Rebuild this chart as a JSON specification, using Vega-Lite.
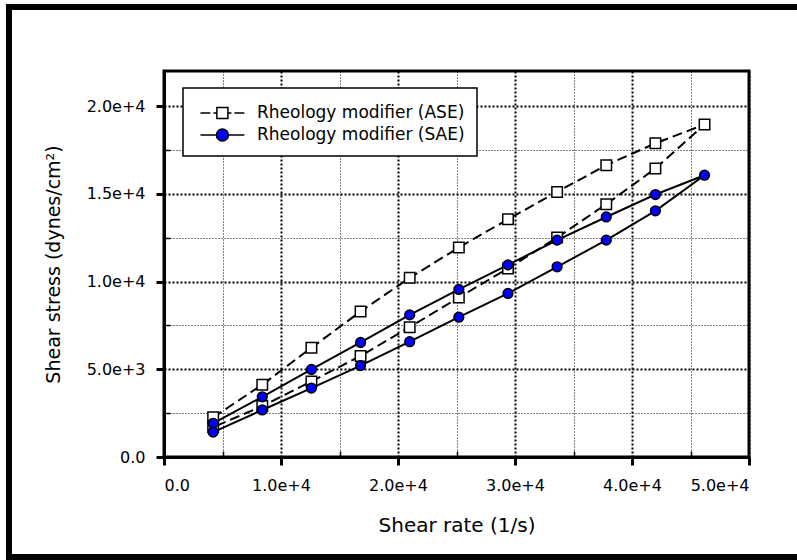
{
  "$schema": "https://vega.github.io/schema/vega-lite/v6.json",
  "width": 585,
  "height": 386,
  "autosize": {"type": "none"},
  "padding": {"left": 164, "top": 71, "right": 48, "bottom": 103},
  "background": "white",
  "config": {
    "view": {"stroke": "black", "strokeWidth": 3},
    "font": "DejaVu Sans",
    "axis": {
      "labelFont": "DejaVu Sans",
      "titleFont": "DejaVu Sans",
      "labelColor": "black",
      "titleColor": "black",
      "titleFontWeight": "normal",
      "tickColor": "black",
      "domainColor": "black",
      "gridColor": "black",
      "gridOpacity": 1
    }
  },
  "data": {
    "values": [
      {"series": "Rheology modifier (ASE)", "ord": 1, "rate": 4200, "stress": 2260},
      {"series": "Rheology modifier (ASE)", "ord": 2, "rate": 8400, "stress": 4120},
      {"series": "Rheology modifier (ASE)", "ord": 3, "rate": 12600, "stress": 6230},
      {"series": "Rheology modifier (ASE)", "ord": 4, "rate": 16800, "stress": 8290},
      {"series": "Rheology modifier (ASE)", "ord": 5, "rate": 21000, "stress": 10210},
      {"series": "Rheology modifier (ASE)", "ord": 6, "rate": 25200, "stress": 11940},
      {"series": "Rheology modifier (ASE)", "ord": 7, "rate": 29400, "stress": 13550},
      {"series": "Rheology modifier (ASE)", "ord": 8, "rate": 33600, "stress": 15110},
      {"series": "Rheology modifier (ASE)", "ord": 9, "rate": 37800, "stress": 16630},
      {"series": "Rheology modifier (ASE)", "ord": 10, "rate": 42000, "stress": 17880},
      {"series": "Rheology modifier (ASE)", "ord": 11, "rate": 46200, "stress": 18950},
      {"series": "Rheology modifier (ASE)", "ord": 12, "rate": 42000, "stress": 16440},
      {"series": "Rheology modifier (ASE)", "ord": 13, "rate": 37800, "stress": 14410},
      {"series": "Rheology modifier (ASE)", "ord": 14, "rate": 33600, "stress": 12510},
      {"series": "Rheology modifier (ASE)", "ord": 15, "rate": 29400, "stress": 10750},
      {"series": "Rheology modifier (ASE)", "ord": 16, "rate": 25200, "stress": 9090},
      {"series": "Rheology modifier (ASE)", "ord": 17, "rate": 21000, "stress": 7400},
      {"series": "Rheology modifier (ASE)", "ord": 18, "rate": 16800, "stress": 5760},
      {"series": "Rheology modifier (ASE)", "ord": 19, "rate": 12600, "stress": 4310},
      {"series": "Rheology modifier (ASE)", "ord": 20, "rate": 8400, "stress": 2900},
      {"series": "Rheology modifier (ASE)", "ord": 21, "rate": 4200, "stress": 1700},
      {"series": "Rheology modifier (SAE)", "ord": 1, "rate": 4200, "stress": 1920},
      {"series": "Rheology modifier (SAE)", "ord": 2, "rate": 8400, "stress": 3430},
      {"series": "Rheology modifier (SAE)", "ord": 3, "rate": 12600, "stress": 4990},
      {"series": "Rheology modifier (SAE)", "ord": 4, "rate": 16800, "stress": 6530},
      {"series": "Rheology modifier (SAE)", "ord": 5, "rate": 21000, "stress": 8100},
      {"series": "Rheology modifier (SAE)", "ord": 6, "rate": 25200, "stress": 9550},
      {"series": "Rheology modifier (SAE)", "ord": 7, "rate": 29400, "stress": 10950},
      {"series": "Rheology modifier (SAE)", "ord": 8, "rate": 33600, "stress": 12360},
      {"series": "Rheology modifier (SAE)", "ord": 9, "rate": 37800, "stress": 13680},
      {"series": "Rheology modifier (SAE)", "ord": 10, "rate": 42000, "stress": 14960},
      {"series": "Rheology modifier (SAE)", "ord": 11, "rate": 46200, "stress": 16060},
      {"series": "Rheology modifier (SAE)", "ord": 12, "rate": 42000, "stress": 14030},
      {"series": "Rheology modifier (SAE)", "ord": 13, "rate": 37800, "stress": 12360},
      {"series": "Rheology modifier (SAE)", "ord": 14, "rate": 33600, "stress": 10840},
      {"series": "Rheology modifier (SAE)", "ord": 15, "rate": 29400, "stress": 9320},
      {"series": "Rheology modifier (SAE)", "ord": 16, "rate": 25200, "stress": 7970},
      {"series": "Rheology modifier (SAE)", "ord": 17, "rate": 21000, "stress": 6570},
      {"series": "Rheology modifier (SAE)", "ord": 18, "rate": 16800, "stress": 5210},
      {"series": "Rheology modifier (SAE)", "ord": 19, "rate": 12600, "stress": 3930},
      {"series": "Rheology modifier (SAE)", "ord": 20, "rate": 8400, "stress": 2680},
      {"series": "Rheology modifier (SAE)", "ord": 21, "rate": 4200, "stress": 1420}
    ]
  },
  "layer": [
    {
      "transform": [{"filter": "datum.ord == 1 && datum.series == 'Rheology modifier (ASE)'"}],
      "mark": {"type": "rule", "color": "black", "strokeWidth": 6, "strokeCap": "square"},
      "encoding": {
        "x": {"datum": -13250, "type": "quantitative", "scale": {"domain": [0, 50000], "nice": false, "zero": false}, "axis": null},
        "y": {"datum": 25650, "type": "quantitative", "scale": {"domain": [0, 22000], "nice": false, "zero": false}, "axis": null},
        "y2": {"datum": -5700}
      }
    },
    {
      "transform": [{"filter": "datum.ord == 1 && datum.series == 'Rheology modifier (ASE)'"}],
      "mark": {"type": "rule", "color": "black", "strokeWidth": 6, "strokeCap": "butt"},
      "encoding": {
        "x": {"datum": -13250, "type": "quantitative", "scale": {"domain": [0, 50000], "nice": false, "zero": false}, "axis": null},
        "x2": {"datum": 54100},
        "y": {"datum": 25650, "type": "quantitative", "scale": {"domain": [0, 22000], "nice": false, "zero": false}, "axis": null}
      }
    },
    {
      "transform": [{"filter": "datum.ord == 1 && datum.series == 'Rheology modifier (ASE)'"}],
      "mark": {"type": "rule", "color": "black", "strokeWidth": 6, "strokeCap": "butt"},
      "encoding": {
        "x": {"datum": -13250, "type": "quantitative", "scale": {"domain": [0, 50000], "nice": false, "zero": false}, "axis": null},
        "x2": {"datum": 54100},
        "y": {"datum": -5700, "type": "quantitative", "scale": {"domain": [0, 22000], "nice": false, "zero": false}, "axis": null}
      }
    },
    {
      "transform": [{"filter": "datum.series == 'Rheology modifier (ASE)'"}],
      "mark": {"type": "line", "color": "black", "strokeWidth": 2, "strokeDash": [10, 5]},
      "encoding": {
        "x": {"field": "rate", "type": "quantitative", "scale": {"domain": [0, 50000], "nice": false, "zero": false},
          "axis": {"orient": "bottom", "values": [5000, 15000, 25000, 35000, 45000], "labels": false, "domain": false, "ticks": true, "tickSize": -6, "tickWidth": 1.5, "grid": true, "gridDash": [1, 2], "gridWidth": 1, "title": null}},
        "y": {"field": "stress", "type": "quantitative", "scale": {"domain": [0, 22000], "nice": false, "zero": false},
          "axis": {"orient": "left", "values": [2500, 7500, 12500, 17500], "labels": false, "domain": false, "ticks": true, "tickSize": -6, "tickWidth": 1.5, "grid": true, "gridDash": [1, 2], "gridWidth": 1, "title": null}},
        "order": {"field": "ord", "type": "quantitative"}
      }
    },
    {
      "transform": [{"filter": "datum.series == 'Rheology modifier (SAE)'"}],
      "mark": {"type": "line", "color": "black", "strokeWidth": 2},
      "encoding": {
        "x": {"field": "rate", "type": "quantitative", "scale": {"domain": [0, 50000], "nice": false, "zero": false},
          "axis": {"orient": "bottom", "values": [0, 10000, 20000, 30000, 40000, 50000], "labelExpr": "datum.value == 0 ? '0.0' : format(datum.value, '.1e')", "labelFontSize": 16, "labelPadding": 12, "tickSize": 8, "tickWidth": 3, "domain": true, "domainWidth": 3, "grid": true, "gridDash": [2, 2], "gridWidth": 2, "title": "Shear rate (1/s)", "titleFontSize": 20, "titlePadding": 22}},
        "y": {"field": "stress", "type": "quantitative", "scale": {"domain": [0, 22000], "nice": false, "zero": false},
          "axis": {"orient": "left", "values": [0, 5000, 10000, 15000, 20000], "labelExpr": "datum.value == 0 ? '0.0' : format(datum.value, '.1e')", "labelFontSize": 16, "labelPadding": 11, "tickSize": 8, "tickWidth": 3, "domain": true, "domainWidth": 3, "grid": true, "gridDash": [2, 2], "gridWidth": 2, "title": "Shear stress (dynes/cm²)", "titleFontSize": 19, "titlePadding": 23}},
        "order": {"field": "ord", "type": "quantitative"}
      }
    },
    {
      "transform": [{"filter": "datum.series == 'Rheology modifier (ASE)'"}],
      "mark": {"type": "point", "shape": "square", "size": 110, "filled": true, "fill": "white", "stroke": "black", "strokeWidth": 1.5, "opacity": 1},
      "encoding": {
        "x": {"field": "rate", "type": "quantitative", "scale": {"domain": [0, 50000], "nice": false, "zero": false}, "axis": null},
        "y": {"field": "stress", "type": "quantitative", "scale": {"domain": [0, 22000], "nice": false, "zero": false}, "axis": null}
      }
    },
    {
      "transform": [{"filter": "datum.series == 'Rheology modifier (SAE)'"}],
      "mark": {"type": "point", "shape": "circle", "size": 95, "filled": true, "fill": "#0000ff", "stroke": "black", "strokeWidth": 1.5, "opacity": 1},
      "encoding": {
        "x": {"field": "rate", "type": "quantitative", "scale": {"domain": [0, 50000], "nice": false, "zero": false}, "axis": null},
        "y": {"field": "stress", "type": "quantitative", "scale": {"domain": [0, 22000], "nice": false, "zero": false}, "axis": null}
      }
    },
    {
      "transform": [{"filter": "false"}],
      "mark": {"type": "point", "filled": true, "stroke": "black", "strokeWidth": 1.5, "opacity": 1, "size": 576},
      "encoding": {
        "shape": {"field": "series", "type": "nominal",
          "scale": {"domain": ["Rheology modifier (ASE)", "Rheology modifier (SAE)"],
            "range": ["M-0.63,0H0.2 M0.45,0H0.74 M1.66,0H1.95 M2.2,0H3.03 M0.74,-0.46H1.66V0.46H0.74Z",
                      "M-0.63,0H0.7 M1.7,0H3.03 M1.7,0C1.7,0.276 1.476,0.5 1.2,0.5C0.924,0.5 0.7,0.276 0.7,0C0.7,-0.276 0.924,-0.5 1.2,-0.5C1.476,-0.5 1.7,-0.276 1.7,0Z"]},
          "legend": {"orient": "none", "legendX": 19, "legendY": 17, "title": null, "strokeColor": "black", "fillColor": "white", "padding": 12, "labelFont": "DejaVu Sans", "labelFontSize": 17, "labelColor": "black", "labelLimit": 400, "symbolSize": 576, "symbolStrokeWidth": 1.5, "symbolStrokeColor": "black", "symbolOpacity": 1, "symbolOffset": 0, "labelOffset": 36, "rowPadding": -3,
            "encode": {"legend": {"update": {"strokeWidth": {"value": 1.5}}}}}},
        "fill": {"field": "series", "type": "nominal",
          "scale": {"domain": ["Rheology modifier (ASE)", "Rheology modifier (SAE)"], "range": ["white", "#0000ff"]},
          "legend": {"orient": "none", "legendX": 19, "legendY": 17, "title": null, "strokeColor": "black", "fillColor": "white", "padding": 12, "labelFont": "DejaVu Sans", "labelFontSize": 17, "labelColor": "black", "labelLimit": 400, "symbolSize": 576, "symbolStrokeWidth": 1.5, "symbolStrokeColor": "black", "symbolOpacity": 1, "symbolOffset": 0, "labelOffset": 36, "rowPadding": -3,
            "encode": {"legend": {"update": {"strokeWidth": {"value": 1.5}}}}}}
      }
    }
  ],
  "resolve": {"axis": {"x": "independent", "y": "independent"}}
}
